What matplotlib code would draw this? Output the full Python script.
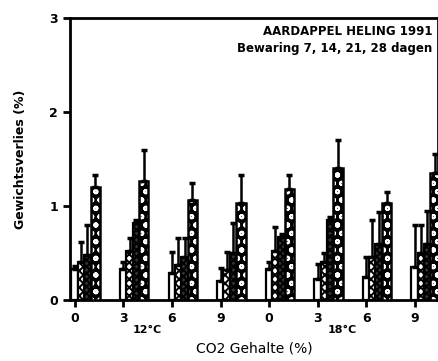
import matplotlib
matplotlib.use("Agg")
import matplotlib.pyplot as plt
import numpy as np

plt.rcParams['hatch.linewidth'] = 1.4

# Data
tick_labels = ["0", "3", "6", "9", "0", "3", "6", "9"]
temps = ["12°C", "18°C"]
days7 = [0.33, 0.33, 0.29, 0.20, 0.33, 0.22, 0.25, 0.35]
days14 = [0.40, 0.52, 0.37, 0.32, 0.52, 0.40, 0.46, 0.50]
days21 = [0.48, 0.82, 0.46, 0.50, 0.67, 0.85, 0.60, 0.60]
days28 = [1.20, 1.27, 1.06, 1.03, 1.18, 1.40, 1.03, 1.35]
err7 = [0.03, 0.07, 0.22, 0.14, 0.07, 0.16, 0.21, 0.45]
err14 = [0.22, 0.14, 0.29, 0.19, 0.26, 0.10, 0.39, 0.30]
err21 = [0.32, 0.03, 0.20, 0.32, 0.03, 0.03, 0.34, 0.35]
err28 = [0.13, 0.33, 0.18, 0.30, 0.15, 0.30, 0.12, 0.20]

series = [days7, days14, days21, days28]
errs = [err7, err14, err21, err28]

fig = plt.figure(figsize=(4.39, 3.61), dpi=100)
ax = fig.add_axes([70/439, 61/361, 368/439, 282/361])

x = np.arange(len(tick_labels))
offsets = [0.0, 0.13, 0.26, 0.42]
widths = [0.14, 0.14, 0.14, 0.19]

for k, (vals, e) in enumerate(zip(series, errs)):
    xp = x + offsets[k]
    v = np.array(vals)
    if k == 0:
        ax.bar(xp, v, widths[k], color='white', edgecolor='black', linewidth=1.6, zorder=2 + k)
    elif k == 1:
        ax.bar(xp, v, widths[k], color='white', edgecolor='black', hatch='xxxx', linewidth=1.6, zorder=2 + k)
    elif k == 2:
        ax.bar(xp, v, widths[k], color='#333333', edgecolor='black', hatch='xxxxx', linewidth=1.6, zorder=2 + k)
    else:
        ax.bar(xp, v, widths[k], color='black', edgecolor='white', hatch='oo', linewidth=0, zorder=2 + k)
        ax.bar(xp, v, widths[k], fill=False, edgecolor='black', linewidth=1.8, zorder=2 + k)
    ax.errorbar(xp, v, yerr=[np.zeros_like(v), np.array(e)], fmt='none', ecolor='black',
                elinewidth=1.8, capsize=2.5, capthick=2.5, zorder=2 + k)

ax.set_xlim(-0.1, 7.48)
ax.set_ylim(0, 3)
ax.set_yticks([0, 1, 2, 3])
ax.set_yticklabels(["0", "1", "2", "3"], fontweight='bold', fontsize=9)
ax.set_xticks(x)
ax.set_xticklabels(tick_labels, fontweight='bold', fontsize=9)
ax.tick_params(axis='both', direction='out', length=5, width=2)
for s in ax.spines.values():
    s.set_linewidth(2)

ax.set_ylabel("Gewichtsverlies (%)", fontweight='bold', fontsize=9, labelpad=16)
ax.set_xlabel("CO2 Gehalte (%)", fontsize=10, labelpad=12)

ax.text(1.5, -0.27, temps[0], ha='center', va='top', fontweight='bold', fontsize=8)
ax.text(5.5, -0.27, temps[1], ha='center', va='top', fontweight='bold', fontsize=8)

ax.text(0.985, 0.975, "AARDAPPEL HELING 1991", transform=ax.transAxes, ha='right', va='top',
        fontweight='bold', fontsize=8.5)
ax.text(0.985, 0.915, "Bewaring 7, 14, 21, 28 dagen", transform=ax.transAxes, ha='right', va='top',
        fontweight='bold', fontsize=8.5)

fig.savefig("out.png", dpi=100)
